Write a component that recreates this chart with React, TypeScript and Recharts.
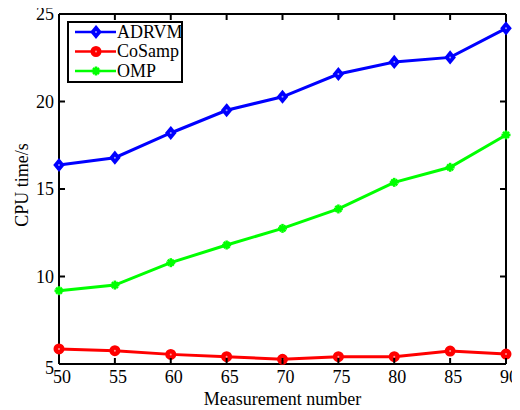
import React from 'react';
import { LineChart, Line, XAxis, YAxis, Legend, ReferenceLine } from 'recharts';

const measurementNumbers = [50, 55, 60, 65, 70, 75, 80, 85, 90];
const adrvm = [16.37, 16.79, 18.2, 19.5, 20.27, 21.57, 22.26, 22.52, 24.18];
const cosamp = [5.86, 5.76, 5.55, 5.42, 5.27, 5.42, 5.42, 5.74, 5.57];
const omp = [9.19, 9.51, 10.79, 11.8, 12.75, 13.86, 15.38, 16.24, 18.09];
const xTicks = [50, 55, 60, 65, 70, 75, 80, 85, 90];
const yTicks = [5, 10, 15, 20, 25];
const xMin = 50;
const xMax = 90;
const yMin = 5;
const yMax = 25;

const data = measurementNumbers.map((m, i) => ({
  m,
  ADRVM: adrvm[i],
  CoSamp: cosamp[i],
  OMP: omp[i],
}));

const FONT = '"Liberation Serif", "Times New Roman", serif';
const BLUE = '#0000ff';
const RED = '#ff0000';
const GREEN = '#00ff00';

const Diamond = ({ cx, cy, color }: any) =>
  cx == null || cy == null ? null : (
    <g>
      <path
        d={`M${cx},${cy - 5.5} L${cx + 4.5},${cy} L${cx},${cy + 5.5} L${cx - 4.5},${cy} Z`}
        fill={color}
        stroke={color}
        strokeWidth={2}
      />
      <circle cx={cx} cy={cy} r={1} fill="#fff" opacity={0.6} />
    </g>
  );
const Circ = ({ cx, cy, color }: any) =>
  cx == null || cy == null ? null : (
    <g>
      <circle cx={cx} cy={cy} r={4.5} fill={color} stroke={color} strokeWidth={2} />
      <circle cx={cx} cy={cy} r={1} fill="#fff" opacity={0.6} />
    </g>
  );
const Star = ({ cx, cy, color }: any) =>
  cx == null || cy == null ? null : (
    <g stroke={color} strokeWidth={2.5}>
      <line x1={cx - 4.5} x2={cx + 4.5} y1={cy} y2={cy} />
      <line x1={cx} x2={cx} y1={cy - 4.5} y2={cy + 4.5} />
      <line x1={cx - 3} x2={cx + 3} y1={cy - 3} y2={cy + 3} />
      <line x1={cx - 3} x2={cx + 3} y1={cy + 3} y2={cy - 3} />
    </g>
  );

const series = [
  { key: 'ADRVM', color: BLUE, Marker: Diamond },
  { key: 'CoSamp', color: RED, Marker: Circ },
  { key: 'OMP', color: GREEN, Marker: Star },
];

// tickSize 6 + tickMargin 2 => tick anchor is 8px away from the axis line
const BottomTick = (p: any) => (
  <g>
    <line x1={p.x} x2={p.x} y1={p.y - 8} y2={p.y - 14} stroke="#000" strokeWidth={2} />
    <text x={p.x + 3} y={p.y + 11} textAnchor="middle" fontFamily={FONT} fontSize={18} fill="#000">
      {p.payload.value}
    </text>
  </g>
);
const TopTick = (p: any) => (
  <line x1={p.x} x2={p.x} y1={p.y + 8} y2={p.y + 14} stroke="#000" strokeWidth={2} />
);
const LeftTick = (p: any) => {
  const v = p.payload.value;
  return (
    <g>
      <line x1={p.x + 8} x2={p.x + 14} y1={p.y} y2={p.y} stroke="#000" strokeWidth={2} />
      <text
        x={p.x + 3}
        y={p.y + (v === 5 ? 4 : 0)}
        dy="0.35em"
        textAnchor="end"
        fontFamily={FONT}
        fontSize={18}
        fill="#000"
      >
        {v}
      </text>
    </g>
  );
};
const RightTick = (p: any) => (
  <line x1={p.x - 8} x2={p.x - 14} y1={p.y} y2={p.y} stroke="#000" strokeWidth={2} />
);

const LegendBox = () => (
  <svg width={116} height={62} style={{ display: 'block' }}>
    <rect x={1} y={1} width={114} height={60} fill="#fff" stroke="#000" strokeWidth={2} />
    {series.map((s, i) => {
      const y = 11 + i * 19.5;
      const M = s.Marker;
      return (
        <g key={s.key}>
          <line x1={8} x2={49} y1={y} y2={y} stroke={s.color} strokeWidth={2.5} />
          <M cx={29} cy={y} color={s.color} />
          <text x={50} y={y} dy="0.33em" fontFamily={FONT} fontSize={18} fill="#000">
            {s.key}
          </text>
        </g>
      );
    })}
  </svg>
);

export default function App() {
  return (
    <div style={{ width: 504, position: 'relative' }}>
      <style>{'.recharts-surface{overflow:visible}'}</style>
      <LineChart
        width={504}
        height={402}
        data={data}
        margin={{ top: 5, right: 5, bottom: 16, left: 0 }}
      >
        <XAxis
          dataKey="m"
          type="number"
          domain={[xMin, xMax]}
          ticks={xTicks}
          interval={0}
          height={30}
          tickSize={6}
          tickMargin={2}
          tickLine={false}
          tick={BottomTick}
          axisLine={{ stroke: '#000', strokeWidth: 2 }}
          label={(props: any) => {
            const vb = props.viewBox || { x: 51, width: 447, y: 356 };
            return (
              <text
                x={vb.x + vb.width / 2}
                y={vb.y + 41}
                textAnchor="middle"
                fontFamily={FONT}
                fontSize={18}
                fill="#000"
              >
                Measurement number
              </text>
            );
          }}
        />
        <XAxis
          xAxisId="top"
          orientation="top"
          dataKey="m"
          type="number"
          domain={[xMin, xMax]}
          ticks={xTicks}
          interval={0}
          height={1}
          tickSize={6}
          tickMargin={2}
          tickLine={false}
          tick={TopTick}
          axisLine={{ stroke: '#000', strokeWidth: 2 }}
        />
        <YAxis
          type="number"
          domain={[yMin, yMax]}
          ticks={yTicks}
          interval={0}
          width={51}
          tickSize={6}
          tickMargin={2}
          tickLine={false}
          tick={LeftTick}
          axisLine={{ stroke: '#000', strokeWidth: 2 }}
          label={() => (
            <text
              x={20}
              y={177}
              transform="rotate(-90, 20, 177)"
              textAnchor="middle"
              fontFamily={FONT}
              fontSize={18}
              fill="#000"
            >
              CPU time/s
            </text>
          )}
        />
        <YAxis
          yAxisId="right"
          orientation="right"
          type="number"
          domain={[yMin, yMax]}
          ticks={yTicks}
          interval={0}
          width={1}
          tickSize={6}
          tickMargin={2}
          tickLine={false}
          tick={RightTick}
          axisLine={{ stroke: '#000', strokeWidth: 2 }}
        />
        <ReferenceLine x={xMax} stroke="#000" strokeWidth={2} />
        <ReferenceLine y={yMax} stroke="#000" strokeWidth={2} />
        {series.map((s) => {
          const M = s.Marker;
          return (
            <Line
              key={s.key}
              dataKey={s.key}
              stroke={s.color}
              strokeWidth={3}
              isAnimationActive={false}
              dot={<M color={s.color} />}
            />
          );
        })}
        <Line
          xAxisId="top"
          yAxisId="right"
          dataKey="ADRVM"
          stroke="none"
          dot={false}
          legendType="none"
          isAnimationActive={false}
        />
        <Legend
          layout="vertical"
          align="center"
          verticalAlign="middle"
          content={() => <LegendBox />}
          wrapperStyle={{ left: 59, top: 13, width: 116, height: 62, right: 'auto', bottom: 'auto' }}
        />
      </LineChart>
    </div>
  );
}
